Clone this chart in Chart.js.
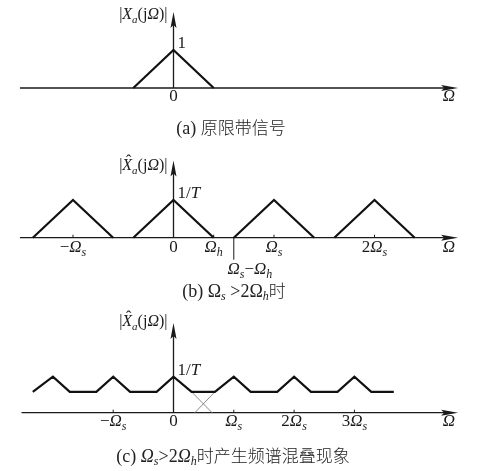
<!DOCTYPE html>
<html><head><meta charset="utf-8">
<script src="https://cdn.jsdelivr.net/npm/chart.js@4.4.1/dist/chart.umd.min.js"></script>
<style>
html,body{margin:0;padding:0;background:#fff;}
#wrap{position:relative;width:477px;height:471px;overflow:hidden;background:#fff;}
canvas{position:absolute;left:0;top:0;}
.cap{position:absolute;white-space:nowrap;font-family:"Liberation Serif",serif;font-size:18px;color:#222;transform:translate(-50%,-50%);line-height:1;}
.cap .z{font-family:"Noto Sans CJK SC",sans-serif;font-weight:300;font-size:17px;}
.cap sub{font-size:12px;vertical-align:-3px;line-height:0;font-style:italic;}
</style></head><body>
<div id="wrap">
<canvas id="ca" width="477" height="471"></canvas>
<canvas id="cb" width="477" height="471"></canvas>
<canvas id="cc" width="477" height="471"></canvas>
<div class="cap" style="left:231px;top:127px;">(a) <span class="z">原限带信号</span></div>
<div class="cap" style="left:234px;top:290px;">(b) Ω<sub>s</sub> &gt;2Ω<sub>h</sub><span class="z">时</span></div>
<div class="cap" style="left:233px;top:455px;">(c) <i>Ω<sub>s</sub></i>&gt;2<i>Ω<sub>h</sub></i><span class="z">时产生频谱混叠现象</span></div>
</div>
<script>
// ---------------- data (x in units of Ωh, y relative to peak) ----------------
// (a) original band-limited spectrum
const aX = [-1, 0, 1];
const aY = [0, 1, 0];
const aTickValues = [0];
const aTickLabels = ['~0'];
// (b) sampled spectrum, Ωs = 2.5 Ωh (null = gap between images)
const bX = [-3.5, -2.5, -1.5, -1.25, -1, 0, 1, 1.25, 1.5, 2.5, 3.5, 3.75, 4, 5, 6];
const bY = [0, 1, 0, null, 0, 1, 0, null, 0, 1, 0, null, 0, 1, 0];
const bTickValues = [-2.5, 0, 1, 2.5, 5];
const bTickLabels = ['~−Ω_s', '~0', 'Ω_h', 'Ω_s', '~2Ω_s'];
const bMarkValue = 1.5;
const bMarkLabel = 'Ω_s~−Ω_h';
// (c) aliased spectrum, Ωs = 1.5 Ωh
const cX = [-3.5, -3.0, -2.58, -1.92, -1.5, -1.08, -0.42, 0, 0.45, 1.03, 1.5, 1.92, 2.58, 3.0, 3.42, 4.08, 4.5, 4.92, 5.48];
const cY = [0.58, 1, 0.58, 0.58, 1, 0.58, 0.58, 1, 0.58, 0.58, 1, 0.58, 0.58, 1, 0.58, 0.58, 1, 0.58, 0.58];
const cHiddenX = [0.45, 0.96, 0.75, 1.03, 0.53];
const cHiddenY = [0.58, 0, null, 0.58, 0];
const cTickValues = [-1.5, 0, 1.5, 3, 4.5];
const cTickLabels = ['~−Ω_s', '~0', 'Ω_s', '~2Ω_s', '~3Ω_s'];
const axisLabel = 'Ω';
const aYLabel = '~|X_a~(~jΩ~)~|';
const hatYLabel = '~|^X_a~(~jΩ~)~|';
const aPeakLabel = '~1';
const bcPeakLabel = '~1~/T';

// ---------------- rendering ----------------
const FONT = '"Liberation Serif", "DejaVu Serif", serif';
function parse(str){
  const segs=[]; let up=false, sub=false, hat=false;
  for (const ch of str){
    if (ch==='~'){up=true;continue;}
    if (ch==='_'){sub=true;continue;}
    if (ch==='^'){hat=true;continue;}
    const letter=/[A-Za-zΩ]/.test(ch);
    segs.push({t:ch, it:letter && !up, sub, hat});
    up=false; sub=false; hat=false;
  }
  return segs;
}
function fontOf(s,size){return (s.it?'italic ':'')+(s.sub?Math.round(size*0.68):size)+'px '+FONT;}
function drawRich(ctx,str,x,y,align,size){
  const segs=parse(str); let w=0;
  segs.forEach(s=>{ctx.font=fontOf(s,size); s.w=ctx.measureText(s.t).width; w+=s.w;});
  let cx = align==='center'? x-w/2 : align==='right'? x-w : x;
  ctx.textAlign='left'; ctx.textBaseline='alphabetic'; ctx.fillStyle='#1a1a1a';
  segs.forEach(s=>{
    ctx.font=fontOf(s,size);
    ctx.fillText(s.t,cx,y+(s.sub?size*0.27:0));
    if(s.hat){ctx.font=size+'px '+FONT; const hw=ctx.measureText('ˆ').width; ctx.fillText('ˆ',cx+s.w/2-hw/2+1.5,y-size*0.22);}
    cx+=s.w;
  });
}
const pts=(xs,ys)=>xs.map((v,i)=>({x:v, y:ys[i]}));
const X_MIN=-4.316, X_MAX=7.55;

function deco(spec){
  return {id:'deco', beforeDatasetsDraw(chart){
    const ctx=chart.ctx, xs=chart.scales.x, ys=chart.scales.y;
    const X=v=>xs.getPixelForValue(v), Y=v=>ys.getPixelForValue(v);
    const y0=Y(0), x0=X(0);
    ctx.save();
    ctx.strokeStyle='#1a1a1a'; ctx.fillStyle='#1a1a1a'; ctx.lineWidth=1.3;
    // x axis with arrow
    const tip=X(spec.xEnd);
    ctx.beginPath(); ctx.moveTo(X(spec.xStart),y0); ctx.lineTo(tip-8,y0); ctx.stroke();
    ctx.beginPath(); ctx.moveTo(tip,y0); ctx.lineTo(tip-17,y0-3); ctx.lineTo(tip-14,y0); ctx.lineTo(tip-17,y0+3); ctx.closePath(); ctx.fill();
    // y axis with arrow
    const top=Y(spec.yTop);
    ctx.beginPath(); ctx.moveTo(x0,y0); ctx.lineTo(x0,top+8); ctx.stroke();
    ctx.beginPath(); ctx.moveTo(x0,top); ctx.lineTo(x0-3,top+16); ctx.lineTo(x0,top+13); ctx.lineTo(x0+3,top+16); ctx.closePath(); ctx.fill();
    // ticks
    ctx.lineWidth=1;
    spec.ticks.forEach(v=>{ if(v!==0){ctx.beginPath(); ctx.moveTo(X(v),y0); ctx.lineTo(X(v),y0-3); ctx.stroke();} });
    spec.ticks.forEach((v,i)=>drawRich(ctx,spec.labels[i],X(v),y0+spec.labelDy,'center',17));
    drawRich(ctx,axisLabel,X(6.85),y0+spec.labelDy,'center',17);
    // y label & peak label
    drawRich(ctx,spec.yLabel,x0-6,spec.yLabelY,'right',16);
    drawRich(ctx,spec.peakLabel,x0+4,Y(1)-2,'left',17);
    if(spec.mark!==undefined){
      ctx.beginPath(); ctx.moveTo(X(spec.mark),y0); ctx.lineTo(X(spec.mark),y0+22); ctx.stroke();
      drawRich(ctx,spec.markLabel,X(spec.markLabelAt),y0+36,'center',17);
    }
    ctx.restore();
  }};
}
function make(id,datasets,yMin,yMax,spec){
  return new Chart(document.getElementById(id),{
    type:'line',
    data:{datasets},
    options:{responsive:false,animation:false,devicePixelRatio:1,layout:{padding:0},
      plugins:{legend:{display:false},tooltip:{enabled:false}},
      scales:{x:{type:'linear',display:false,min:X_MIN,max:X_MAX},y:{display:false,min:yMin,max:yMax}},
      elements:{point:{radius:0},line:{tension:0}}},
    plugins:[deco(spec)]
  });
}
const curve=(d)=>({data:d,borderColor:'#111',borderWidth:2.2,fill:false,spanGaps:false,borderJoinStyle:'miter',clip:false});

make('ca',[curve(pts(aX,aY))], -10.079, 2.3158,
  {ticks:aTickValues,labels:aTickLabels,xStart:-3.82,xEnd:7.08,yTop:2.0,labelDy:13,yLabel:aYLabel,yLabelY:19,peakLabel:aPeakLabel});
make('cb',[curve(pts(bX,bY))], -6.188, 6.305,
  {ticks:bTickValues,labels:bTickLabels,xStart:-3.82,xEnd:7.08,yTop:2.05,labelDy:14,yLabel:hatYLabel,yLabelY:170,peakLabel:bcPeakLabel,mark:bMarkValue,markLabel:bMarkLabel,markLabelAt:1.9});
make('cc',[curve(pts(cX,cY)),{data:pts(cHiddenX,cHiddenY),borderColor:'#8a8a8a',borderWidth:1,fill:false,spanGaps:false}], -1.619, 11.464,
  {ticks:cTickValues,labels:cTickLabels,xStart:-3.78,xEnd:7.08,yTop:2.49,labelDy:13,yLabel:hatYLabel,yLabelY:326,peakLabel:bcPeakLabel});
</script>
</body></html>
